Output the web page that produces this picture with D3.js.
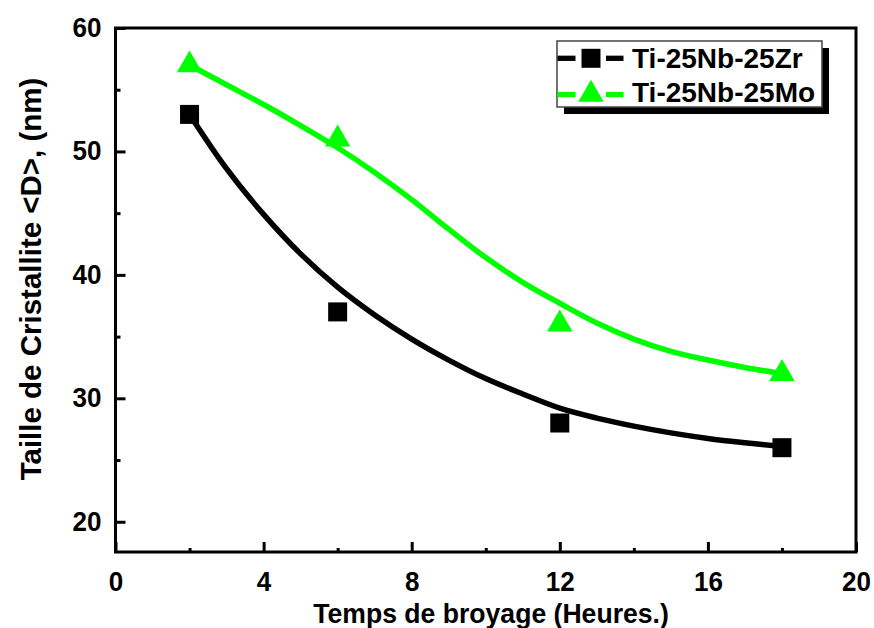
<!DOCTYPE html>
<html><head><meta charset="utf-8">
<script src="https://cdn.jsdelivr.net/npm/d3@7"></script>
<style>body{margin:0;background:#fff}svg{display:block}</style>
</head><body><svg id="c" width="874" height="628"></svg>
<script>
// ---- data ----
const hours = [2, 6, 12, 18];
const zrSize = [53, 37, 28, 26];
const moSize = [57, 51, 36, 32];
// fitted curves
const fitHours = [2, 3, 4, 5, 6, 7, 8, 9, 10, 11, 12, 13, 14, 15, 16, 17, 18];
const zrFit = [53.0, 48.6, 44.9, 41.7, 39.0, 36.75, 34.8, 33.1, 31.6, 30.35, 29.2, 28.4, 27.75, 27.2, 26.75, 26.4, 26.1];
const moFit = [57.0, 55.4, 53.8, 52.1, 50.3, 48.3, 46.1, 43.7, 41.4, 39.4, 37.7, 36.1, 34.8, 33.8, 33.1, 32.5, 32.0];
const seriesNames = ["Ti-25Nb-25Zr", "Ti-25Nb-25Mo"];
const xMajor = [0, 4, 8, 12, 16, 20];
const xMinor = [2, 6, 10, 14, 18];
const yMajor = [20, 30, 40, 50, 60];
const yMinor = [25, 35, 45, 55];
const xTitle = "Temps de broyage (Heures.)";
const yTitle = "Taille de Cristallite <D>, (nm)";

const FONT = "'Liberation Sans', Arial, Helvetica, sans-serif";
const GREEN = "#00ff00";

const svg = d3.select("#c");
const x = d3.scaleLinear().domain([0, 20]).range([115.5, 856]);
const y = d3.scaleLinear().domain([17.55, 60]).range([552, 28]);

// frame
svg.append("rect")
  .attr("x", x.range()[0]).attr("y", y.range()[1])
  .attr("width", x.range()[1] - x.range()[0])
  .attr("height", y.range()[0] - y.range()[1])
  .attr("fill", "none").attr("stroke", "#000").attr("stroke-width", 3);

function styleAxis(g) {
  g.select(".domain").remove();
  g.attr("font-family", FONT).attr("font-size", 28).attr("font-weight", "bold");
  g.selectAll("line").attr("stroke", "#000").attr("stroke-width", 3);
  g.selectAll("text").attr("fill", "#000");
}

// x axis
const gx = svg.append("g").attr("transform", `translate(0,${y.range()[0]})`)
  .call(d3.axisBottom(x).tickValues(xMajor).tickSize(-10).tickFormat(d3.format("d")));
styleAxis(gx);
gx.selectAll("text").attr("y", 39.5).attr("dy", null).attr("transform", "scale(0.93,1)");
const gxm = svg.append("g").attr("transform", `translate(0,${y.range()[0]})`)
  .call(d3.axisBottom(x).tickValues(xMinor).tickSize(-4).tickFormat(""));
styleAxis(gxm);

// y axis
const gy = svg.append("g").attr("transform", `translate(${x.range()[0]},0)`)
  .call(d3.axisLeft(y).tickValues(yMajor).tickSize(-10).tickFormat(d3.format("d")));
styleAxis(gy);
gy.selectAll("text").attr("x", -15).attr("dy", "0.3em").attr("transform", "scale(0.93,1)");
const gym = svg.append("g").attr("transform", `translate(${x.range()[0]},0)`)
  .call(d3.axisLeft(y).tickValues(yMinor).tickSize(-5).tickFormat(""));
styleAxis(gym);

// titles
svg.append("text")
  .attr("transform", "translate(491,623) scale(0.95,1)")
  .attr("text-anchor", "middle")
  .attr("font-family", FONT).attr("font-size", 28).attr("font-weight", "bold")
  .text(xTitle);
svg.append("text")
  .attr("transform", "translate(41,279) rotate(-90)")
  .attr("text-anchor", "middle")
  .attr("font-family", FONT).attr("font-size", 29.5).attr("font-weight", "bold")
  .text(yTitle);

// fitted curves
const line = d3.line().x(d => x(d[0])).y(d => y(d[1])).curve(d3.curveCatmullRom.alpha(0.5));
svg.append("path").datum(d3.zip(fitHours, zrFit)).attr("d", line)
  .attr("fill", "none").attr("stroke", "#000").attr("stroke-width", 5.5).attr("stroke-linejoin", "round");
svg.append("path").datum(d3.zip(fitHours, moFit)).attr("d", line)
  .attr("fill", "none").attr("stroke", GREEN).attr("stroke-width", 5.5).attr("stroke-linejoin", "round");

// markers
const sq = d3.symbol().type(d3.symbolSquare).size(361);
const tri = d3.symbol().type(d3.symbolTriangle).size(279);
svg.append("g").selectAll("path").data(d3.zip(hours, zrSize)).join("path")
  .attr("transform", d => `translate(${x(d[0])},${y(d[1])})`)
  .attr("d", sq).attr("fill", "#000");
svg.append("g").selectAll("path").data(d3.zip(hours, moSize)).join("path")
  .attr("transform", d => `translate(${x(d[0])},${y(d[1])})`)
  .attr("d", tri).attr("fill", GREEN);

// legend
const lg = svg.append("g");
lg.append("rect").attr("x", 564).attr("y", 48).attr("width", 265).attr("height", 66).attr("fill", "#000");
lg.append("rect").attr("x", 557).attr("y", 41).attr("width", 265).attr("height", 66)
  .attr("fill", "#fff").attr("stroke", "#444").attr("stroke-width", 1.5);
const rows = [
  { name: seriesNames[0], color: "#000", sym: sq, ly: 58.3, ty: 67.9 },
  { name: seriesNames[1], color: GREEN, sym: tri, ly: 94.5, ty: 101.8 }
];
rows.forEach(r => {
  lg.append("line").attr("x1", 557.5).attr("x2", 575.5).attr("y1", r.ly).attr("y2", r.ly)
    .attr("stroke", r.color).attr("stroke-width", 5.3);
  lg.append("line").attr("x1", 606).attr("x2", 623.5).attr("y1", r.ly).attr("y2", r.ly)
    .attr("stroke", r.color).attr("stroke-width", 5.3);
  lg.append("path").attr("transform", `translate(591,${r.ly})`).attr("d", r.sym).attr("fill", r.color);
  lg.append("text").attr("x", 632).attr("y", r.ty)
    .attr("font-family", FONT).attr("font-size", 28).attr("font-weight", "bold")
    .text(r.name);
});
</script></body></html>
